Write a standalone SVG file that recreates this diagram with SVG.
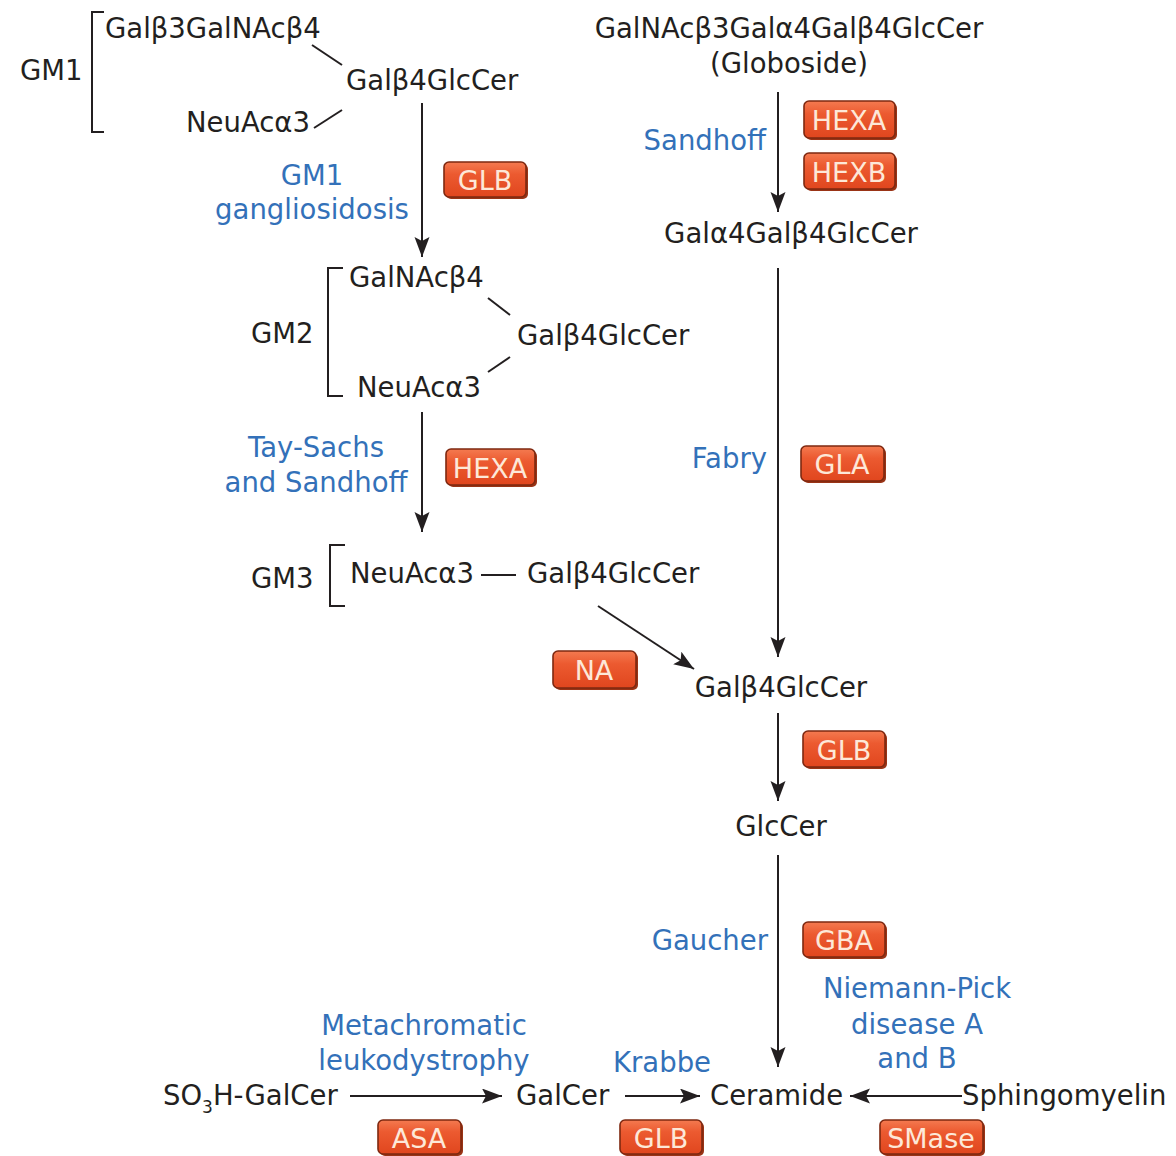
<svg xmlns="http://www.w3.org/2000/svg" width="1176" height="1156" viewBox="0 0 1176 1156">
<defs>
<linearGradient id="boxg" x1="0" y1="0" x2="0" y2="1">
<stop offset="0" stop-color="#f47a50"/>
<stop offset="0.35" stop-color="#ec5a30"/>
<stop offset="1" stop-color="#e0461e"/>
</linearGradient>
<marker id="ah" markerUnits="userSpaceOnUse" markerWidth="24" markerHeight="18" refX="20" refY="7.5" orient="auto">
<path d="M0,0 L20,7.5 L0,15 L4,7.5 z" fill="#231f20"/>
</marker>
<style>
text{font-family:"DejaVu Sans","Liberation Sans",sans-serif;font-size:27.5px}
.k{fill:#231f20}
.b{fill:#3371b9}
.m{text-anchor:middle}
.e{text-anchor:end}
.ln{stroke:#231f20;stroke-width:2;fill:none}
.ar{stroke:#231f20;stroke-width:2;fill:none;marker-end:url(#ah)}
.bx{fill:url(#boxg);stroke:#7e2810;stroke-width:1.6}
.sh{fill:#9a3416}
.bt{fill:#fde8d8;font-size:27px;text-anchor:middle}
</style>
</defs>

<g id="connectors">
<line class="ar" x1="422" y1="103" x2="422" y2="257"/>
<line class="ar" x1="422" y1="412" x2="422" y2="532"/>
<line class="ar" x1="598" y1="606" x2="694" y2="669"/>
<line class="ar" x1="778" y1="92" x2="778" y2="212"/>
<line class="ar" x1="778" y1="268" x2="778" y2="657"/>
<line class="ar" x1="778" y1="713" x2="778" y2="801"/>
<line class="ar" x1="778" y1="855" x2="778" y2="1067"/>
<line class="ar" x1="350" y1="1096" x2="502" y2="1096"/>
<line class="ar" x1="625" y1="1096" x2="700" y2="1096"/>
<line class="ar" x1="962" y1="1096" x2="850" y2="1096"/>
</g>

<g id="gm1">
<path class="ln" d="M104,12 H92 V132 H104"/>
<text class="k" x="20" y="80">GM1</text>
<text class="k" x="105" y="38">Galβ3GalNAcβ4</text>
<line class="ln" x1="312" y1="45" x2="342" y2="65"/>
<text class="k" x="346" y="90">Galβ4GlcCer</text>
<line class="ln" x1="314" y1="128" x2="342" y2="110"/>
<text class="k" x="186" y="132">NeuAcα3</text>
</g>

<g id="gm1-disease">
<text class="b m" x="312" y="185">GM1</text>
<text class="b m" x="312" y="219">gangliosidosis</text>
</g>

<g id="gm2">
<path class="ln" d="M343,268 H328 V396 H343"/>
<text class="k" x="251" y="343">GM2</text>
<text class="k" x="349" y="287">GalNAcβ4</text>
<line class="ln" x1="488" y1="298" x2="510" y2="315"/>
<text class="k" x="517" y="345">Galβ4GlcCer</text>
<line class="ln" x1="488" y1="372" x2="510" y2="357"/>
<text class="k" x="357" y="397">NeuAcα3</text>
</g>

<g id="tay-sachs">
<text class="b m" x="316" y="457">Tay-Sachs</text>
<text class="b m" x="316" y="492">and Sandhoff</text>
</g>

<g id="gm3">
<path class="ln" d="M345,545 H330 V606 H345"/>
<text class="k" x="251" y="588">GM3</text>
<text class="k" x="350" y="583">NeuAcα3</text>
<line class="ln" x1="481" y1="575" x2="516" y2="575"/>
<text class="k" x="527" y="583">Galβ4GlcCer</text>
</g>

<g id="globoside">
<text class="k m" x="789" y="38">GalNAcβ3Galα4Galβ4GlcCer</text>
<text class="k m" x="789" y="73">(Globoside)</text>
</g>
<g id="sandhoff"><text class="b e" x="766" y="150">Sandhoff</text></g>
<g id="galgal"><text class="k m" x="791" y="243">Galα4Galβ4GlcCer</text></g>
<g id="fabry"><text class="b e" x="767" y="468">Fabry</text></g>
<g id="lactosylcer"><text class="k m" x="781" y="697">Galβ4GlcCer</text></g>
<g id="glccer"><text class="k m" x="781" y="836">GlcCer</text></g>
<g id="gaucher"><text class="b e" x="768" y="950">Gaucher</text></g>
<g id="niemann-pick">
<text class="b m" x="917" y="998">Niemann-Pick</text>
<text class="b m" x="917" y="1034">disease A</text>
<text class="b m" x="917" y="1068">and B</text>
</g>
<g id="mld">
<text class="b m" x="424" y="1035">Metachromatic</text>
<text class="b m" x="424" y="1070">leukodystrophy</text>
</g>
<g id="krabbe"><text class="b m" x="662" y="1072">Krabbe</text></g>
<g id="so3h-galcer"><text class="k" x="163" y="1105">SO<tspan font-size="17" dy="8">3</tspan><tspan dy="-8">H-GalCer</tspan></text></g>
<g id="galcer"><text class="k" x="516" y="1105">GalCer</text></g>
<g id="ceramide"><text class="k" x="710" y="1105">Ceramide</text></g>
<g id="sphingomyelin"><text class="k" x="962" y="1105">Sphingomyelin</text></g>

<g id="enz-glb1"><rect class="sh" x="446" y="164" width="82" height="35" rx="5"/><rect class="bx" x="444" y="162" width="82" height="35" rx="5"/><text class="bt" x="485" y="190">GLB</text></g>
<g id="enz-hexa1"><rect class="sh" x="448" y="451" width="89" height="36" rx="5"/><rect class="bx" x="446" y="449" width="89" height="36" rx="5"/><text class="bt" x="490" y="478">HEXA</text></g>
<g id="enz-na"><rect class="sh" x="555" y="653" width="83" height="37" rx="5"/><rect class="bx" x="553" y="651" width="83" height="37" rx="5"/><text class="bt" x="594" y="680">NA</text></g>
<g id="enz-hexa2"><rect class="sh" x="806" y="103" width="91" height="37" rx="5"/><rect class="bx" x="804" y="101" width="91" height="37" rx="5"/><text class="bt" x="849" y="130">HEXA</text></g>
<g id="enz-hexb"><rect class="sh" x="806" y="155" width="91" height="36" rx="5"/><rect class="bx" x="804" y="153" width="91" height="36" rx="5"/><text class="bt" x="849" y="182">HEXB</text></g>
<g id="enz-gla"><rect class="sh" x="803" y="448" width="83" height="35" rx="5"/><rect class="bx" x="801" y="446" width="83" height="35" rx="5"/><text class="bt" x="842" y="474">GLA</text></g>
<g id="enz-glb2"><rect class="sh" x="805" y="733" width="82" height="36" rx="5"/><rect class="bx" x="803" y="731" width="82" height="36" rx="5"/><text class="bt" x="844" y="760">GLB</text></g>
<g id="enz-gba"><rect class="sh" x="805" y="924" width="82" height="35" rx="5"/><rect class="bx" x="803" y="922" width="82" height="35" rx="5"/><text class="bt" x="844" y="950">GBA</text></g>
<g id="enz-asa"><rect class="sh" x="380" y="1122" width="83" height="34" rx="5"/><rect class="bx" x="378" y="1120" width="83" height="34" rx="5"/><text class="bt" x="419" y="1148">ASA</text></g>
<g id="enz-glb3"><rect class="sh" x="622" y="1122" width="82" height="34" rx="5"/><rect class="bx" x="620" y="1120" width="82" height="34" rx="5"/><text class="bt" x="661" y="1148">GLB</text></g>
<g id="enz-smase"><rect class="sh" x="882" y="1122" width="103" height="34" rx="5"/><rect class="bx" x="880" y="1120" width="103" height="34" rx="5"/><text class="bt" x="931" y="1148">SMase</text></g>
</svg>
